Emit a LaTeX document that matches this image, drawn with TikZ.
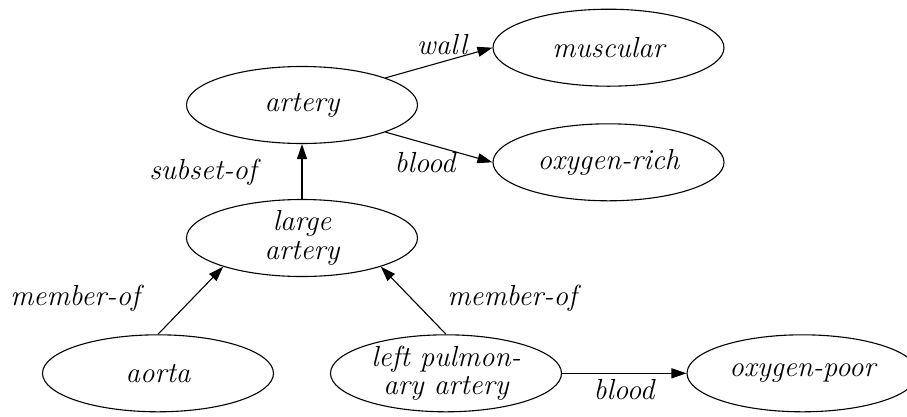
\documentclass[tikz,border=0pt]{standalone}
\usetikzlibrary{arrows.meta,shapes.geometric}
\begin{document}
\begin{tikzpicture}[x=1pt,y=-1pt,
  txt/.style={font=\fontsize{29}{28.5}\selectfont\itshape, align=center, inner sep=0pt},
  concept/.style={draw, ellipse, line width=1.1pt, inner sep=0pt,
    minimum width=231pt, minimum height=77pt},
  rel/.style={draw, line width=1.1pt, -{Triangle[length=15pt,width=10pt]}}]
  \useasboundingbox (0,0) rectangle (907,416);

  % concepts
  \node[concept, label={[txt]center:muscular}] (mus) at (608.5,47.7) {};
  \node[concept, label={[txt]center:artery}] (art) at (302,105) {};
  \node[concept, label={[txt]center:oxygen-rich}] (rich) at (608.5,162.3) {};
  \node[concept, label={[txt]center:large\\artery}] (large) at (302,238) {};
  \node[concept, label={[txt]center:aorta}] (aorta) at (158,373.3) {};
  \node[concept, label={[txt]center:left pulmon-\\ary artery}] (lpa) at (446,373.3) {};
  \node[concept, label={[txt]center:oxygen-poor}] (poor) at (802.5,373.3) {};

  % relations
  \draw[rel] (art.18) -- (mus.west);
  \draw[rel] (art.-18) -- (rich.west);
  \draw[rel] (large.north) -- (art.south);
  \draw[rel] (aorta.north) -- (large.200);
  \draw[rel] (lpa.north) -- (large.-20);
  \draw[rel] (lpa.east) -- (poor.west);

  % relation names
  \node[txt] (lwall) at (442,45) {wall};
  \node[txt] (lblood1) at (425,163) {blood};
  \node[txt] (lsub) at (203,172) {subset-of};
  \node[txt] (lmem1) at (75,298) {member-of};
  \node[txt] (lmem2) at (512,298) {member-of};
  \node[txt] (lblood2) at (624,390) {blood};
\end{tikzpicture}
\end{document}
